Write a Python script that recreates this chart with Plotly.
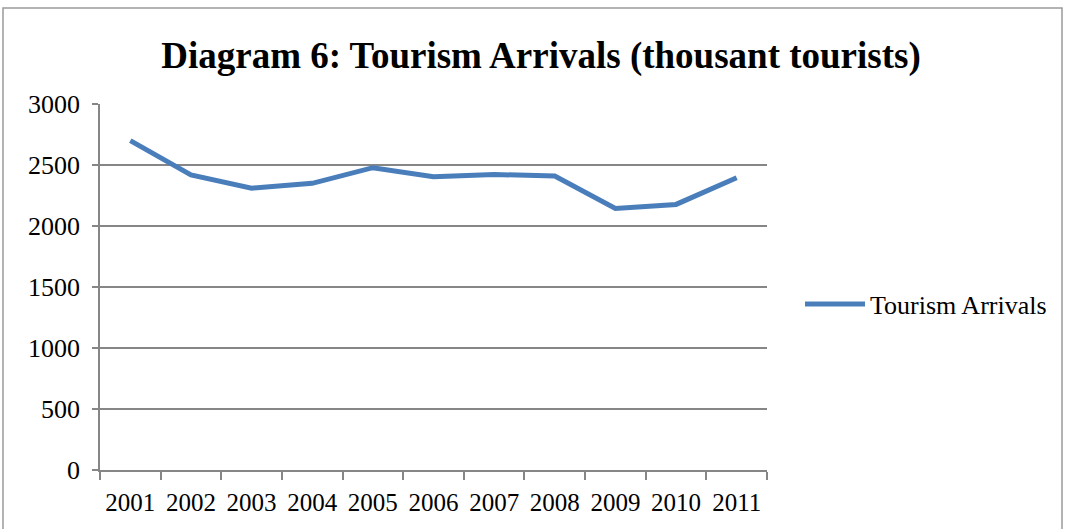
import plotly.graph_objects as go

# Tourism arrivals, thousand tourists
years = ["2001", "2002", "2003", "2004", "2005", "2006",
         "2007", "2008", "2009", "2010", "2011"]
arrivals = [2700, 2418, 2310, 2350, 2478, 2404, 2422, 2410, 2144, 2177, 2396]
y_ticks = [0, 500, 1000, 1500, 2000, 2500, 3000]

W, H = 1067, 529
L, R, T, B = 100, 300, 104, 59
PW, PH = W - L - R, H - T - B

def px(x):
    return (x - L) / PW

def py(y):
    return (H - B - y) / PH

GRID = "#868686"
FONT = "Liberation Serif, Times New Roman, serif"

fig = go.Figure()
fig.add_trace(go.Scatter(
    x=years, y=arrivals, mode="lines", name="Tourism Arrivals",
    line=dict(color="#4A7EBB", width=5),
))

fig.update_layout(
    width=W, height=H,
    margin=dict(l=L, r=R, t=T, b=B),
    paper_bgcolor="white", plot_bgcolor="white",
    font=dict(family=FONT, size=26, color="black"),
    title=dict(
        text="<b>Diagram 6: Tourism Arrivals (thousant tourists)</b>",
        font=dict(family=FONT, size=37, color="black"),
        x=541 / W, xanchor="center", y=1 - 55 / H, yanchor="middle",
    ),
    showlegend=True,
    legend=dict(
        x=px(800), xanchor="left", y=py(304), yanchor="middle",
        font=dict(family=FONT, size=26), itemwidth=60,
        bgcolor="rgba(0,0,0,0)",
    ),
    xaxis=dict(
        type="category", range=[-0.5, 10.5],
        showline=True, linecolor=GRID, linewidth=1.5,
        ticks="outside", tickson="boundaries", ticklen=8,
        tickcolor=GRID, tickwidth=1.5, tickangle=0,
        showgrid=False, zeroline=False, automargin=False,
        ticklabelstandoff=9,
        tickfont=dict(family=FONT, size=25),
    ),
    yaxis=dict(
        range=[0, 3000], tickvals=y_ticks,
        showline=True, linecolor=GRID, linewidth=1.5,
        ticks="outside", ticklen=6, tickcolor=GRID, tickwidth=1.5,
        showgrid=True, gridcolor=GRID, gridwidth=1.5,
        zeroline=False, ticklabelstandoff=7, automargin=False,
        tickfont=dict(family=FONT, size=26),
    ),
)

# chart frame
fig.add_shape(
    type="rect", xref="paper", yref="paper",
    x0=px(3), x1=px(1062), y0=py(540), y1=py(8),
    line=dict(color="#9a9a9a", width=1.5), layer="below",
)

fig.write_html("out.html")
